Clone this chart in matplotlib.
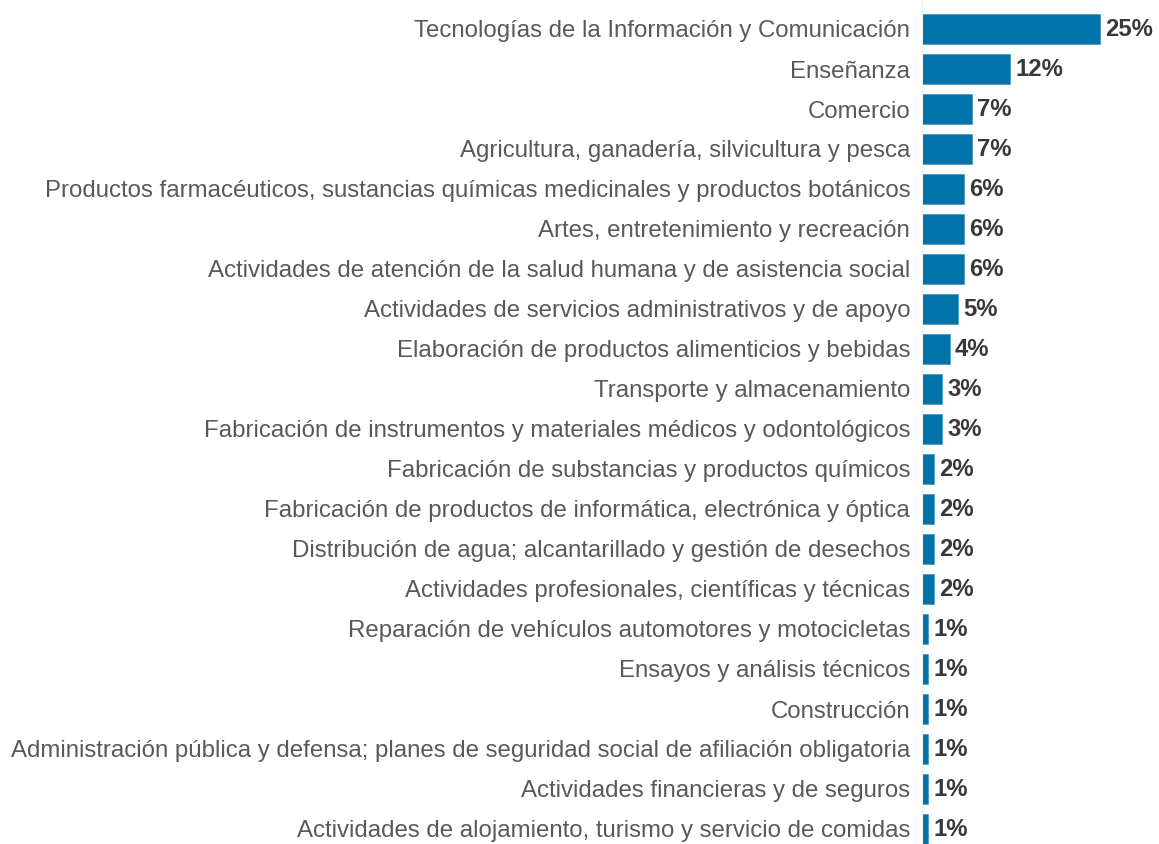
import matplotlib.pyplot as plt

# sectores y porcentajes
sectores = [
    'Tecnologías de la Información y Comunicación',
    'Enseñanza',
    'Comercio',
    'Agricultura, ganadería, silvicultura y pesca',
    'Productos farmacéuticos, sustancias químicas medicinales y productos botánicos',
    'Artes, entretenimiento y recreación',
    'Actividades de atención de la salud humana y de asistencia social',
    'Actividades de servicios administrativos y de apoyo',
    'Elaboración de productos alimenticios y bebidas',
    'Transporte y almacenamiento',
    'Fabricación de instrumentos y materiales médicos y odontológicos',
    'Fabricación de substancias y productos químicos',
    'Fabricación de productos de informática, electrónica y óptica',
    'Distribución de agua; alcantarillado y gestión de desechos',
    'Actividades profesionales, científicas y técnicas',
    'Reparación de vehículos automotores y motocicletas',
    'Ensayos y análisis técnicos',
    'Construcción',
    'Administración pública y defensa; planes de seguridad social de afiliación obligatoria',
    'Actividades financieras y de seguros',
    'Actividades de alojamiento, turismo y servicio de comidas',
]
porcentajes = [25.0, 12.4, 7.0, 7.0, 5.9, 5.9, 5.9, 5.1, 3.9, 2.8, 2.8,
               1.7, 1.7, 1.7, 1.7, 0.8, 0.8, 0.8, 0.8, 0.8, 0.8]

plt.rcParams['font.family'] = ['Liberation Sans', 'DejaVu Sans']

fig = plt.figure(figsize=(11.59, 8.44), dpi=100)
ax = fig.add_axes([922 / 1159, 0, 1 - 922 / 1159, 1])

y = range(len(sectores))
ax.barh(y, porcentajes, height=0.73, color='#0073a8', edgecolor='#4a9cc6', linewidth=0.6)

for i, v in enumerate(porcentajes):
    ax.text(v + 0.75, i, f'{round(v)}%', va='center', ha='left',
            fontsize=17.2, fontweight='bold', color='#383838')

ax.set_yticks(list(y))
ax.set_yticklabels(sectores, fontsize=17.3, color='#595959')
ax.tick_params(axis='y', length=0, pad=8.5)
ax.set_xticks([])
ax.set_xlim(0, 237 / 7.12)
ax.set_ylim(20.375, -0.725)

for s in ['top', 'right', 'bottom']:
    ax.spines[s].set_visible(False)
ax.spines['left'].set_color('#eeeeee')

fig.savefig('out.png', dpi=100)
